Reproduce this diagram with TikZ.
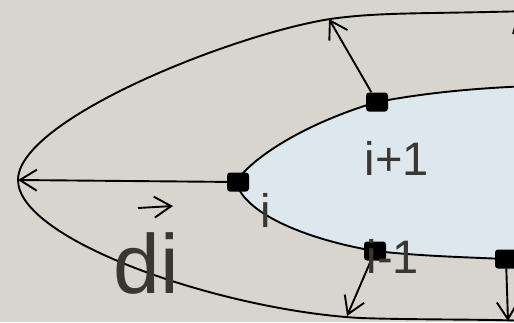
\documentclass[tikz,border=0pt]{standalone}
\usepackage{fontspec}
\setmainfont{Liberation Sans}
\usetikzlibrary{arrows.meta}
\definecolor{bgc}{HTML}{D8D5CF}
\definecolor{fillc}{HTML}{DDE7EE}
\definecolor{txtc}{HTML}{3A3632}
\tikzset{
  curve/.style={line width=1.9bp, black},
  arr/.style={line width=1.9bp, black, -{Straight Barb[length=17bp,width=21bp,line width=1.9bp]}},
  sq/.style={rectangle, fill=black, minimum width=22bp, minimum height=19bp, rounded corners=3bp, inner sep=0pt},
  lbl/.style={text=txtc, anchor=base, inner sep=0pt},
}
\begin{document}
\begin{tikzpicture}[x=1bp,y=-1bp]
\useasboundingbox (0,0) rectangle (514,322);
\fill[bgc] (0,0) rectangle (514,322);
\clip (0,0) rectangle (514,322);
% inner region
\fill[fillc] (236,182) .. controls (250,160) and (300,125) .. (377,102)
  .. controls (430,92) and (480,88) .. (530,86) -- (530,261) -- (505,259)
  .. controls (460,257) and (420,256) .. (375,251)
  .. controls (310,240) and (245,215) .. (236,182) -- cycle;
\draw[curve] (236,182) .. controls (250,160) and (300,125) .. (377,102)
  .. controls (430,92) and (480,88) .. (530,86);
\draw[curve] (236,182) .. controls (245,215) and (310,240) .. (375,251)
  .. controls (420,256) and (460,257) .. (505,259) -- (530,261);
% outer curve
\draw[curve] (530,11) .. controls (420,14) and (380,12) .. (330,19)
  .. controls (230,35) and (18,120) .. (18,180)
  .. controls (18,240) and (220,310) .. (360,318)
  .. controls (420,320) and (480,319) .. (530,321);
% coordinates on outer curve
\coordinate (tip) at (18,180);
\coordinate (t1) at (329,19);
\coordinate (b1) at (347,316);
\coordinate (b2) at (508,321);
\coordinate (t2) at (518,13);
\coordinate (r0) at (540,90);
% squares
\node[sq] (ni) at (238,182) {};
\node[sq] (nip) at (377,102) {};
\node[sq] (nim) at (375,251) {};
\node[sq] (nr) at (506,259) {};
% arrows
\draw[arr] (ni) -- (tip);
\draw[arr] (nip) -- (t1);
\draw[arr] (nim) -- (b1);
\draw[arr] (nr) -- (b2);
\draw[arr] (r0) -- (t2);
% labels
\node[lbl, font=\fontsize{47bp}{50bp}\selectfont] (lip) at (397,175) {i+1};
\node[lbl, font=\fontsize{47bp}{50bp}\selectfont] (li) at (266,227) {i};
\node[lbl, font=\fontsize{47bp}{50bp}\selectfont] (lim) at (393,273) {i-1};
\node[lbl, font=\fontsize{84bp}{88bp}\selectfont] (ldi) at (146,293) {di};
% vector arrow over di
\coordinate (va) at (138,208);
\coordinate (vb) at (173,206);
\draw[arr] (va) -- (vb);
\end{tikzpicture}
\end{document}
